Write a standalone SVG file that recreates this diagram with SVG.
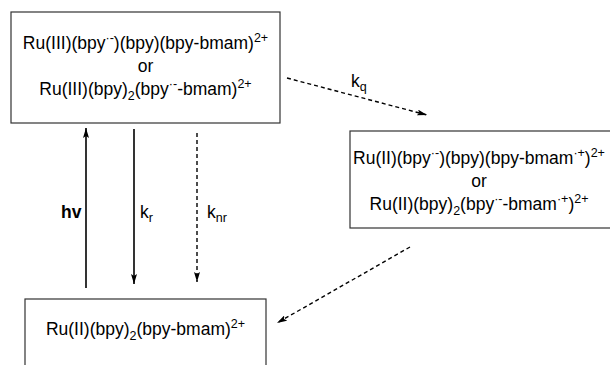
<svg xmlns="http://www.w3.org/2000/svg" width="610" height="365" viewBox="0 0 610 365">
<defs>
<style>
.box{fill:#fff;stroke:#333;stroke-width:1.2}
.t{font-family:"Liberation Sans",Arial,sans-serif;font-size:17.5px;fill:#000}
.m{text-anchor:middle}
.sup{font-size:12.5px}
.sub{font-size:12.5px}
.solid{stroke:#000;stroke-width:1.6;fill:none}
.dash{stroke:#000;stroke-width:1.4;fill:none;stroke-dasharray:4 3}
</style>
<marker id="ah" viewBox="0 0 10 6" refX="10" refY="3" markerWidth="10" markerHeight="6" markerUnits="userSpaceOnUse" orient="auto">
<path d="M0,0 L10,3 L0,6 L2,3 Z" fill="#000"/>
</marker>
</defs>
<rect width="610" height="365" fill="#fff"/>
<g id="node-excited">
<rect class="box" x="11" y="12" width="269" height="111"/>
<text class="t m" x="145.5" y="49">Ru(III)(bpy<tspan class="sup" dy="-7">·-</tspan><tspan dy="7">)(bpy)(bpy-bmam)</tspan><tspan class="sup" dy="-7">2+</tspan></text>
<text class="t m" x="145.5" y="72">or</text>
<text class="t m" x="145.5" y="95">Ru(III)(bpy)<tspan class="sub" dy="5">2</tspan><tspan dy="-5">(bpy</tspan><tspan class="sup" dy="-7">·-</tspan><tspan dy="7">-bmam)</tspan><tspan class="sup" dy="-7">2+</tspan></text>
</g>
<g id="node-quenched">
<rect class="box" x="350" y="131" width="262" height="97"/>
<text class="t m" x="479" y="164">Ru(II)(bpy<tspan class="sup" dy="-7">·-</tspan><tspan dy="7">)(bpy)(bpy-bmam</tspan><tspan class="sup" dy="-7">·+</tspan><tspan dy="7">)</tspan><tspan class="sup" dy="-7">2+</tspan></text>
<text class="t m" x="479" y="187">or</text>
<text class="t m" x="479" y="210">Ru(II)(bpy)<tspan class="sub" dy="5">2</tspan><tspan dy="-5">(bpy</tspan><tspan class="sup" dy="-7">·-</tspan><tspan dy="7">-bmam</tspan><tspan class="sup" dy="-7">·+</tspan><tspan dy="7">)</tspan><tspan class="sup" dy="-7">2+</tspan></text>
</g>
<g id="node-ground">
<rect class="box" x="25" y="299" width="241" height="80"/>
<text class="t m" x="145.5" y="335">Ru(II)(bpy)<tspan class="sub" dy="5">2</tspan><tspan dy="-5">(bpy-bmam)</tspan><tspan class="sup" dy="-7">2+</tspan></text>
</g>
<g id="connectors">
<line class="solid" x1="86" y1="288" x2="86" y2="128" marker-end="url(#ah)"/>
<line class="solid" x1="134" y1="129" x2="134" y2="284" marker-end="url(#ah)"/>
<line class="dash" x1="197" y1="133" x2="197" y2="282" marker-end="url(#ah)"/>
<line class="dash" x1="287" y1="78" x2="427" y2="115" marker-end="url(#ah)"/>
<line class="dash" x1="410" y1="247" x2="277" y2="323" marker-end="url(#ah)"/>
</g>
<g id="labels">
<text class="t" x="61" y="218" font-weight="bold">hv</text>
<text class="t" x="140" y="218">k<tspan class="sub" dy="4">r</tspan></text>
<text class="t" x="207" y="218">k<tspan class="sub" dy="4">nr</tspan></text>
<text class="t" x="351" y="87">k<tspan class="sub" dy="4">q</tspan></text>
</g>
</svg>
